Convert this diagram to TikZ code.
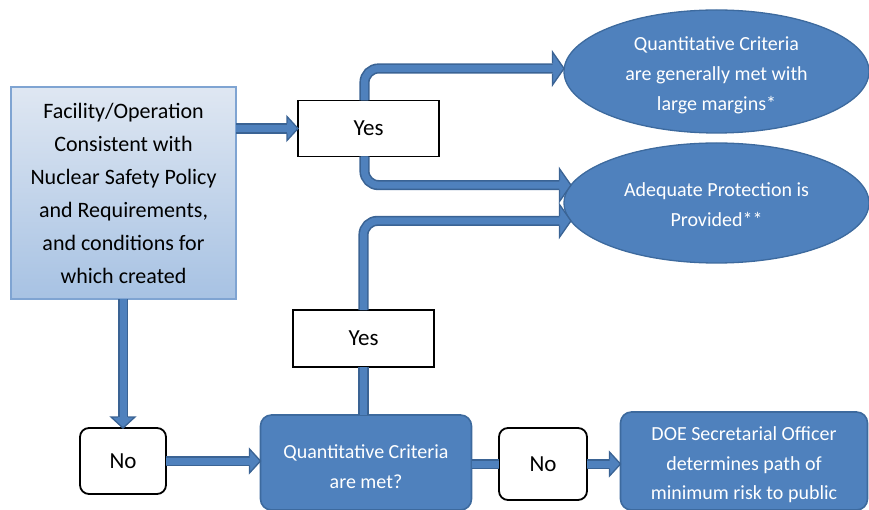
\documentclass[tikz,border=0pt]{standalone}
\usepackage{fontspec}
\setmainfont{Carlito}
\usetikzlibrary{shapes.geometric,calc}
\definecolor{boxblue}{HTML}{4F81BD}
\definecolor{boxedge}{HTML}{3D6A9E}
\definecolor{arrowfill}{HTML}{4F81BD}
\definecolor{arrowedge}{HTML}{3A6394}
\definecolor{gradtop}{HTML}{DFE7F2}
\definecolor{gradbot}{HTML}{A7C2E3}
\definecolor{gradedge}{HTML}{7FA4D2}
\begin{document}
\begin{tikzpicture}[x=1pt,y=-1pt,
  every node/.style={inner sep=0pt,outer sep=0pt},
  startbox/.style={rectangle,draw=gradedge,line width=1.2pt,top color=gradtop,bottom color=gradbot,
    minimum width=225pt,minimum height=212pt,align=center,font=\fontsize{22}{33}\selectfont},
  answerbox/.style={rectangle,draw=black,line width=1.8pt,fill=white,minimum width=141pt,minimum height=56pt,
    font=\fontsize{23}{26}\selectfont},
  nobox/.style={rectangle,rounded corners=9pt,draw=black,line width=1.8pt,fill=white,
    font=\fontsize{23}{26}\selectfont},
  outcome/.style={ellipse,draw=boxedge,line width=1.3pt,fill=boxblue,text=white,align=center,
    font=\fontsize{20}{30}\selectfont,minimum width=305pt},
  bluebox/.style={rectangle,rounded corners=11pt,draw=boxedge,line width=1.6pt,fill=boxblue,text=white,
    align=center,font=\fontsize{20}{29.5}\selectfont},
  fat/.style={draw=arrowedge,double=arrowfill,double distance=7pt,line width=1.6pt,rounded corners=14pt},
  fatshort/.style={fat,shorten >=10.5pt},
  headsmall/.pic={
    \fill[arrowfill] (0.5,0) -- (-11,-12) -- (-11,12) -- cycle;
    \draw[arrowedge,line width=1.3pt,line join=miter]
      (-11,-5.1) -- (-11,-12) -- (0,0) -- (-11,12) -- (-11,5.1);},
  headbig/.pic={
    \fill[arrowfill] (0.5,0) -- (-11.5,-16.5) -- (-11.5,16.5) -- cycle;
    \draw[arrowedge,line width=1.3pt,line join=miter]
      (-11.5,-5.1) -- (-11.5,-16.5) -- (0,0) -- (-11.5,16.5) -- (-11.5,5.1);}
]
\useasboundingbox (0,0) rectangle (869,510);

\node[startbox] (fac) at (123.5,193) {Facility/Operation\\Consistent with\\Nuclear Safety Policy\\and Requirements,\\and conditions for\\which created};
\node[answerbox] (yes1) at (368.5,128.5) {Yes};
\node[outcome,minimum height=123pt] (e1) at (716.5,71.5) {\rule{0pt}{21pt}Quantitative Criteria\\are generally met with\\large margins*};
\node[outcome,minimum height=120pt] (e2) at (716.5,203) {\rule{0pt}{17pt}Adequate Protection is\\Provided**};
\node[answerbox,minimum height=57pt] (yes2) at (363.5,338.5) {Yes};
\node[nobox,minimum width=86pt,minimum height=66pt] (no1) at (123,461) {No};
\node[bluebox,minimum width=211pt,minimum height=95pt] (q) at (366,462.5) {\rule{0pt}{22pt}Quantitative Criteria\\are met?};
\node[nobox,minimum width=88pt,minimum height=72pt] (no2) at (543,464) {No};
\node[bluebox,minimum width=247pt,minimum height=98pt] (doe) at (744,461) {\rule{0pt}{22pt}DOE Secretarial Officer\\determines path of\\minimum risk to public};

\coordinate (y1top) at ($(yes1.north)+(-4,0)$);
\coordinate (y1bot) at ($(yes1.south)+(-4,0)$);
\coordinate (facout) at (fac.east |- yes1.west);
\coordinate (facdown) at (no1.north |- fac.south);
\coordinate (qin) at (q.west |- no1.east);
\coordinate (doein) at (doe.west |- no2.east);
\coordinate (e1in) at ($(e1.west)+(0,-3)$);

\draw[fatshort] (facout) -- (yes1.west);
\pic at (yes1.west) {headsmall};
\draw[fatshort] (y1top) |- (e1in);
\pic at (e1in) {headbig};
\draw[fatshort] (y1bot) |- (e2.173);
\pic at (e2.173) {headbig};
\draw[fatshort] (yes2.north) |- (e2.187);
\pic at (e2.187) {headbig};
\draw[fat] (yes2.south) -- (yes2.south |- q.north);
\draw[fatshort] (facdown) -- (no1.north);
\pic[rotate=-90] at (no1.north) {headsmall};
\draw[fatshort] (no1.east) -- (qin);
\pic at (qin) {headsmall};
\draw[fat] (q.east |- no2.west) -- (no2.west);
\draw[fatshort] (no2.east) -- (doein);
\pic at (doein) {headsmall};
\end{tikzpicture}
\end{document}
